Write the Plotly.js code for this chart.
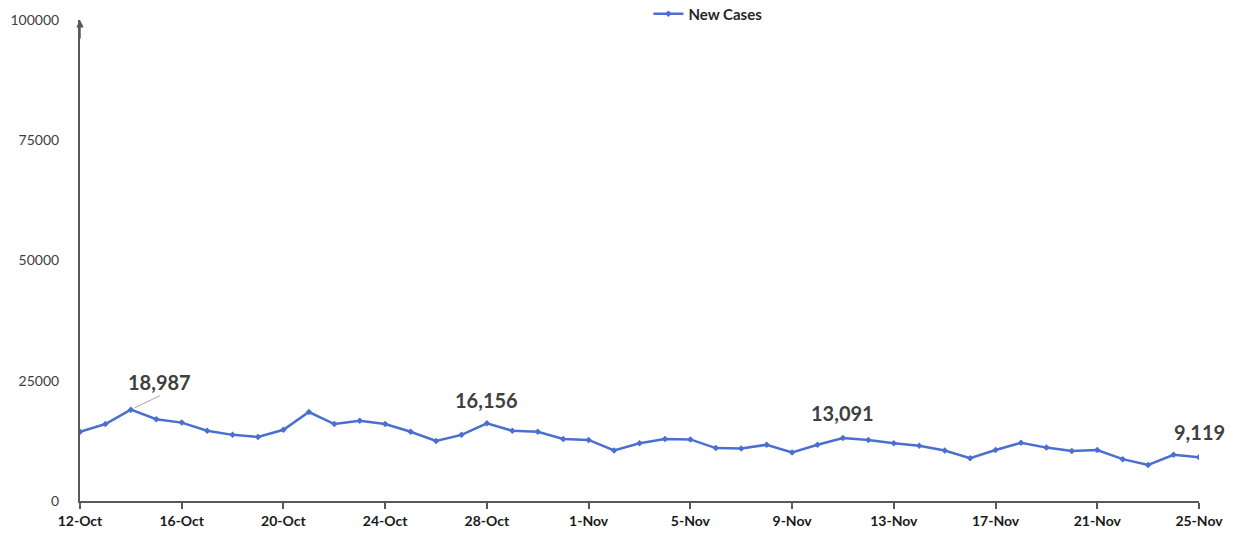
<!DOCTYPE html>
<html>
<head>
<meta charset="utf-8">
<script src="https://cdn.plot.ly/plotly-3.0.1.min.js"></script>
<style>html,body{margin:0;padding:0;background:#fff;}#chart{width:1239px;height:542px;}</style>
</head>
<body>
<div id="chart"></div>
<script>
const startDate = "2020-10-12";
const endDate = "2020-11-25";
const seriesName = "New Cases";
const newCases = [
  14400, 16000, 18987, 17000, 16300, 14600, 13750, 13300, 14800, 18500,
  16000, 16700, 16000, 14400, 12500, 13750, 16156, 14600, 14400, 12900,
  12700, 10500, 12000, 12900, 12800, 11000, 10900, 11700, 10100, 11700,
  13091, 12700, 12000, 11500, 10500, 8900, 10600, 12100, 11100, 10400,
  10600, 8700, 7500, 9600, 9119
];
const labelledIdx = [2, 16, 30, 44];
const yTicks = [0, 25000, 50000, 75000, 100000];

function addDays(s, n) {
  const d = new Date(s + "T00:00:00Z");
  d.setUTCDate(d.getUTCDate() + n);
  return d.toISOString().slice(0, 10);
}
const dates = newCases.map((_, i) => addDays(startDate, i));

const fmt = v => v.toLocaleString("en-US");
const annotations = labelledIdx.map((i, k) => {
  const a = {
    x: dates[i], y: newCases[i], xref: "x", yref: "y",
    text: fmt(newCases[i]),
    font: {family: "Lato, 'Open Sans', sans-serif", size: 20, color: "#404040", weight: "bold"},
    showarrow: false, yshift: 30, xshift: 0
  };
  if (k === 0) {
    a.showarrow = true; a.arrowhead = 0; a.arrowcolor = "#a6a6a6"; a.arrowwidth = 1;
    a.ax = 29; a.ay = -14; a.standoff = 4; a.xanchor = "center"; a.yanchor = "bottom";
    delete a.yshift;
  }
  if (k === 1) { a.yshift = 23; }
  if (k === 2) { a.yshift = 25; }
  if (k === 3) { a.yshift = 25; }
  return a;
});
// arrow on top of y axis
annotations.push({
  x: 0, y: 1.0, xref: "paper", yref: "paper", ax: 0, ay: 20, axref: "pixel",
  showarrow: true, arrowhead: 2, arrowsize: 1, arrowwidth: 1.5, arrowcolor: "#595959", text: ""
});

const trace = {
  x: dates, y: newCases, type: "scatter", mode: "lines+markers", name: seriesName,
  line: {color: "#4a6fd1", width: 2.5},
  marker: {symbol: "diamond", size: 5, color: "#4a6fd1"}
};

const layout = {
  width: 1239, height: 542,
  margin: {l: 80, r: 40, t: 20, b: 41, autoexpand: false},
  paper_bgcolor: "#fff", plot_bgcolor: "#fff",
  showlegend: true,
  legend: {orientation: "h", x: 0.508, xanchor: "left", y: 1.0125, yanchor: "middle",
    font: {family: "Lato, 'Open Sans', sans-serif", size: 15, color: "#262626", weight: "bold"},
    bgcolor: "rgba(0,0,0,0)", itemwidth: 30, tracegroupgap: 0},
  xaxis: {
    type: "date", range: [startDate, endDate],
    tick0: startDate, dtick: 4 * 86400000, tickformat: "%-d-%b",
    showgrid: false, zeroline: false, showline: true, linecolor: "#595959", linewidth: 2,
    ticks: "outside", ticklen: 6, tickwidth: 2, tickcolor: "#595959",
    tickfont: {family: "Lato, 'Open Sans', sans-serif", size: 14, color: "#1a1a1a", weight: "bold"},
    fixedrange: true
  },
  yaxis: {
    range: [0, 100000], tickvals: yTicks, ticktext: yTicks.map(String),
    showgrid: false, zeroline: false, showline: true, linecolor: "#595959", linewidth: 2,
    ticks: "", ticklabelstandoff: 16,
    tickfont: {family: "Lato, 'Open Sans', sans-serif", size: 14, color: "#404040"},
    fixedrange: true
  },
  annotations: annotations
};

Plotly.newPlot("chart", [trace], layout, {displayModeBar: false, staticPlot: true});
</script>
</body>
</html>
